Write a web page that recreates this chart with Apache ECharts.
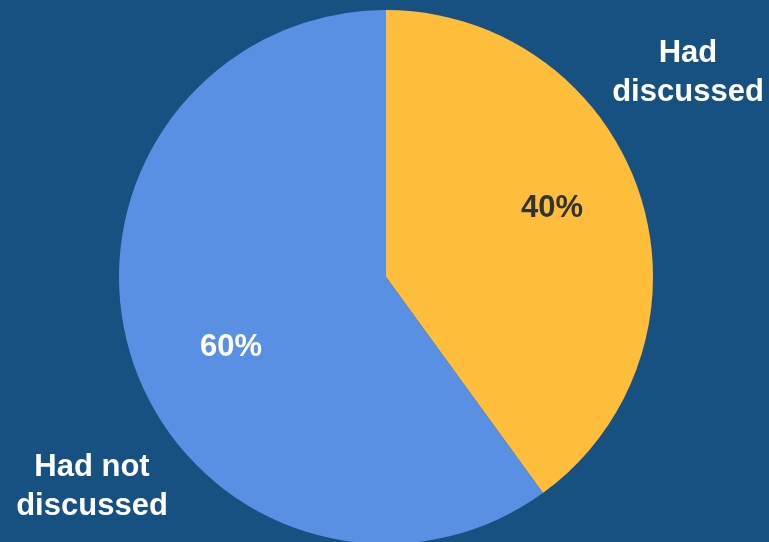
<!DOCTYPE html>
<html>
<head>
<meta charset="utf-8">
<script src="https://cdn.jsdelivr.net/npm/echarts@6/dist/echarts.min.js"></script>
<style>
  html, body { margin: 0; padding: 0; background: #175182; }
  #chart { width: 769px; height: 542px; }
</style>
</head>
<body>
<div id="chart"></div>
<script>
// Share of respondents by whether the topic had been discussed
const categories = ['Had\ndiscussed', 'Had not\ndiscussed'];
const shares = [40, 60];
const sliceColors = ['#FEBD3B', '#5A90E3'];
const percentColors = ['#333333', '#ffffff'];

// Label anchor points (centre of each text block)
const percentAnchors = [[552, 208], [231, 347]];
const nameAnchors = [[688, 73], [92, 487]];

const chart = echarts.init(document.getElementById('chart'));
const font = { fontFamily: '"Liberation Sans", Arial, sans-serif', fontWeight: 'bold', fontSize: 31 };

const pieData = categories.map((name, i) => ({
  name: name,
  value: shares[i],
  itemStyle: { color: sliceColors[i] },
  label: { color: percentColors[i] }
}));

chart.setOption({
  backgroundColor: '#175182',
  animation: false,
  series: [
    {
      type: 'pie',
      center: [386, 277],
      radius: 267,
      startAngle: 90,
      clockwise: true,
      data: pieData,
      itemStyle: { borderWidth: 0 },
      label: Object.assign({
        show: true,
        position: 'inside',
        formatter: p => p.value + '%'
      }, font),
      labelLine: { show: false },
      labelLayout: p => ({
        x: percentAnchors[p.dataIndex][0],
        y: percentAnchors[p.dataIndex][1],
        align: 'center',
        verticalAlign: 'middle'
      }),
      emphasis: { disabled: true }
    },
    {
      type: 'pie',
      center: [386, 277],
      radius: 267,
      startAngle: 90,
      clockwise: true,
      silent: true,
      data: categories.map((name, i) => ({ name: name, value: shares[i] })),
      itemStyle: { color: 'rgba(0,0,0,0)' },
      label: Object.assign({
        show: true,
        position: 'outside',
        alignTo: 'none',
        overflow: 'none',
        width: 300,
        color: '#ffffff',
        lineHeight: 39,
        align: 'center',
        formatter: p => p.name
      }, font),
      labelLine: { show: false },
      labelLayout: p => ({
        x: nameAnchors[p.dataIndex][0],
        y: nameAnchors[p.dataIndex][1],
        align: 'center',
        verticalAlign: 'middle'
      }),
      emphasis: { disabled: true }
    }
  ]
});
</script>
</body>
</html>
